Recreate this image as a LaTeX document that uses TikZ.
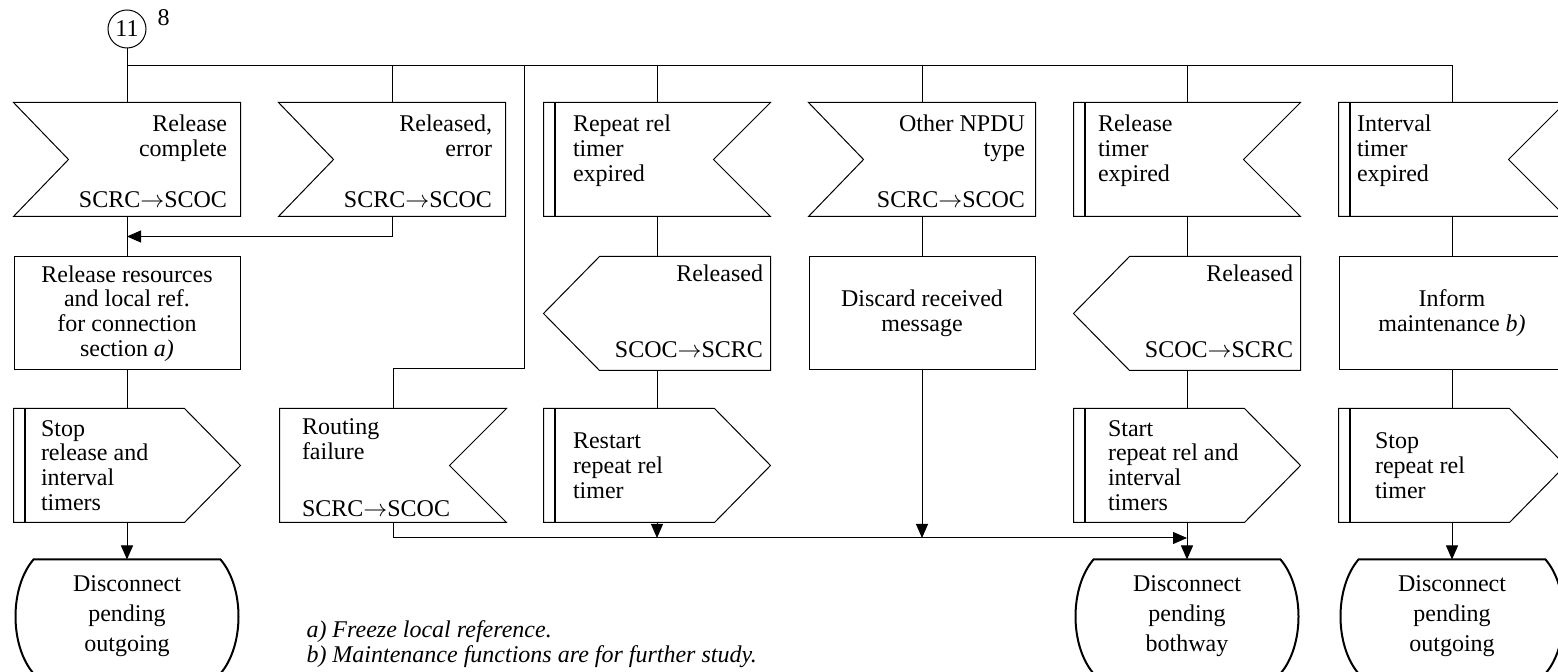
\documentclass[tikz,border=0pt]{standalone}
\usepackage{fontspec}
\setmainfont{Liberation Serif}
\usetikzlibrary{arrows.meta, positioning, calc}
\newcommand{\lbl}{\fontsize{12}{12.4}\selectfont}
\newcommand{\stfont}{\fontsize{12}{15}\selectfont}
\newcommand{\ra}{$\rightarrow$}
% outlines round the symbol nodes
\newcommand{\insigL}[1]{\draw (#1.north west) -- (#1.north east) -- (#1.south east) -- (#1.south west) -- ([xshift=27.5pt]#1.west) -- cycle;}
\newcommand{\insigR}[1]{\draw (#1.north west) -- (#1.north east) -- ([xshift=-28.5pt]#1.east) -- (#1.south east) -- (#1.south west) -- cycle;}
\newcommand{\outsigL}[1]{\draw ([xshift=28pt]#1.north west) -- (#1.north east) -- (#1.south east) -- ([xshift=28pt]#1.south west) -- (#1.west) -- cycle;}
\newcommand{\outsigR}[1]{\draw (#1.north west) -- ([xshift=-28pt]#1.north east) -- (#1.east) -- ([xshift=-28pt]#1.south east) -- (#1.south west) -- cycle;}
\newcommand{\tbar}[1]{\draw[line width=1pt] ([xshift=5.5pt]#1.north west) -- ([xshift=5.5pt]#1.south west);}
\newcommand{\stateout}[1]{\draw[line width=1pt] ([xshift=10pt]#1.north west) -- ([xshift=-10pt]#1.north east)
  .. controls ([xshift=2pt,yshift=-14pt]#1.north east) and ([xshift=2pt,yshift=14pt]#1.south east) .. ([xshift=-10pt]#1.south east)
  -- ([xshift=10pt]#1.south west)
  .. controls ([xshift=-2pt,yshift=14pt]#1.south west) and ([xshift=-2pt,yshift=-14pt]#1.north west) .. ([xshift=10pt]#1.north west) -- cycle;}

\begin{document}
\begin{tikzpicture}[x=0.5pt, y=-0.5pt, line width=0.5pt,
    sym/.style={rectangle, minimum width=113pt, minimum height=56.5pt, inner sep=0pt, font=\lbl},
    task/.style={sym, draw, align=center},
    stbox/.style={sym, align=center, font=\stfont},
    txt/.style={inner sep=0pt, font=\lbl},
    arr/.style={-{Triangle[length=7pt, width=6pt]}}
]
\useasboundingbox (0,0) rectangle (1558,672);

% entry connector
\node[circle, draw, minimum size=19pt, inner sep=0pt, font=\lbl] (c11) at (127,29) {11};
\node[txt, anchor=base west] (c11n) at (157,26) {8};

% first row: received signals and expired timers
\node[sym] (rc) at (127,159.5) {};
\node[sym] (re) at (392,159.5) {};
\node[sym] (rt) at (657,159.5) {};
\node[sym] (np) at (922,159.5) {};
\node[sym] (lt) at (1187,159.5) {};
\node[sym] (ic) at (1452,159.5) {};

\node[txt, align=right, anchor=north east] (rc-a) at ([shift={(-6.5pt,-6pt)}]rc.north east) {Release\\complete};
\node[txt, anchor=south east] (rc-b) at ([shift={(-6.5pt,4pt)}]rc.south east) {SCRC\ra SCOC};
\node[txt, align=right, anchor=north east] (re-a) at ([shift={(-6.5pt,-6pt)}]re.north east) {Released,\\error};
\node[txt, anchor=south east] (re-b) at ([shift={(-6.5pt,4pt)}]re.south east) {SCRC\ra SCOC};
\node[txt, align=left, anchor=north west] (rt-a) at ([shift={(14.5pt,-6pt)}]rt.north west) {Repeat rel\\timer\\expired};
\node[txt, align=right, anchor=north east] (np-a) at ([shift={(-5pt,-6pt)}]np.north east) {Other NPDU\\type};
\node[txt, anchor=south east] (np-b) at ([shift={(-5pt,4pt)}]np.south east) {SCRC\ra SCOC};
\node[txt, align=left, anchor=north west] (lt-a) at ([shift={(12pt,-6pt)}]lt.north west) {Release\\timer\\expired};
\node[txt, align=left, anchor=north west] (ic-a) at ([shift={(9pt,-6pt)}]ic.north west) {Interval\\timer\\expired};

% second row
\node[task, below=20pt of rc] (rr) {Release resources\\and local ref.\\for connection\\section \textit{a)}};
\node[sym, below=20pt of rt] (rl1) {};
\node[task, below=20pt of np] (dm) {Discard received\\message};
\node[sym, below=20pt of lt] (rl2) {};
\node[task, below=20pt of ic] (im) {Inform\\maintenance \textit{b)}};

\node[txt, anchor=north east] (rl1-a) at ([shift={(-3.5pt,-4pt)}]rl1.north east) {Released};
\node[txt, anchor=south east] (rl1-b) at ([shift={(-3.5pt,6pt)}]rl1.south east) {SCOC\ra SCRC};
\node[txt, anchor=north east] (rl2-a) at ([shift={(-3.5pt,-4pt)}]rl2.north east) {Released};
\node[txt, anchor=south east] (rl2-b) at ([shift={(-3.5pt,6pt)}]rl2.south east) {SCOC\ra SCRC};

% third row: timer actions and routing failure
\node[sym, below=19pt of rr] (st1) {};
\node[sym, right=19.5pt of st1] (rf) {};
\node[sym, below=19pt of rl1] (rs) {};
\node[sym, below=19pt of rl2] (sr) {};
\node[sym, below=19pt of im] (sp) {};

\node[txt, align=left, anchor=west] (st1-a) at ([xshift=13.5pt]st1.west) {Stop\\release and\\interval\\timers};
\node[txt, align=left, anchor=north west] (rf-a) at ([shift={(11pt,-4.8pt)}]rf.north west) {Routing\\failure};
\node[txt, anchor=south west] (rf-b) at ([shift={(11pt,2.5pt)}]rf.south west) {SCRC\ra SCOC};
\node[txt, align=left, anchor=west] (rs-a) at ([xshift=14.5pt]rs.west) {Restart\\repeat rel\\timer};
\node[txt, align=left, anchor=west] (sr-a) at ([xshift=17pt]sr.west) {Start\\repeat rel and\\interval\\timers};
\node[txt, align=left, anchor=west] (sp-a) at ([xshift=18pt]sp.west) {Stop\\repeat rel\\timer};

% fourth row: next states
\node[stbox, below=18.5pt of st1] (dp1) {Disconnect\\pending\\outgoing};
\node[stbox, below=18.5pt of sr] (dp2) {Disconnect\\pending\\bothway};
\node[stbox, below=18.5pt of sp] (dp3) {Disconnect\\pending\\outgoing};

% footnotes
\node[txt, align=left, anchor=north west, font=\itshape\fontsize{12}{12.5}\selectfont] (fn) at (306,620)
  {a) Freeze local reference.\\b) Maintenance functions are for further study.};

% symbol outlines
\insigL{rc} \insigL{re} \insigL{np}
\insigR{rt} \tbar{rt} \insigR{lt} \tbar{lt} \insigR{ic} \tbar{ic}
\outsigL{rl1} \outsigL{rl2}
\outsigR{st1} \tbar{st1} \outsigR{rs} \tbar{rs} \outsigR{sr} \tbar{sr} \outsigR{sp} \tbar{sp}
\insigR{rf}
\stateout{dp1} \stateout{dp2} \stateout{dp3}

% connectors
\coordinate (bus) at (0,66);
\coordinate (bot) at (0,538);
\coordinate (rfup) at (524.5,66);
\coordinate (rfbend) at (524.5,369);
\draw (c11) -- (rc);
\draw (rc.north |- bus) -| (ic.north);
\draw (re.north |- bus) -- (re.north);
\draw (rt.north |- bus) -- (rt.north);
\draw (np.north |- bus) -- (np.north);
\draw (lt.north |- bus) -- (lt.north);
\draw (rfup) -- (rfbend) -| (rf.north);
\draw (rc) -- (rr);
\draw[arr] (re.south) |- ($(rc.south)!0.5!(rr.north)$);
\draw (rr) -- (st1);
\draw[arr] (st1) -- (dp1);
\draw (rt) -- (rl1);
\draw (rl1) -- (rs);
\draw[arr] (rs.south) -- (rs.south |- bot);
\draw (np) -- (dm);
\draw[arr] (dm.south) -- (dm.south |- bot);
\draw (lt) -- (rl2);
\draw (rl2) -- (sr);
\draw[arr] (rf.south) |- (sr.south |- bot);
\draw[arr] (sr) -- (dp2);
\draw (ic) -- (im);
\draw (im) -- (sp);
\draw[arr] (sp) -- (dp3);
\end{tikzpicture}
\end{document}
